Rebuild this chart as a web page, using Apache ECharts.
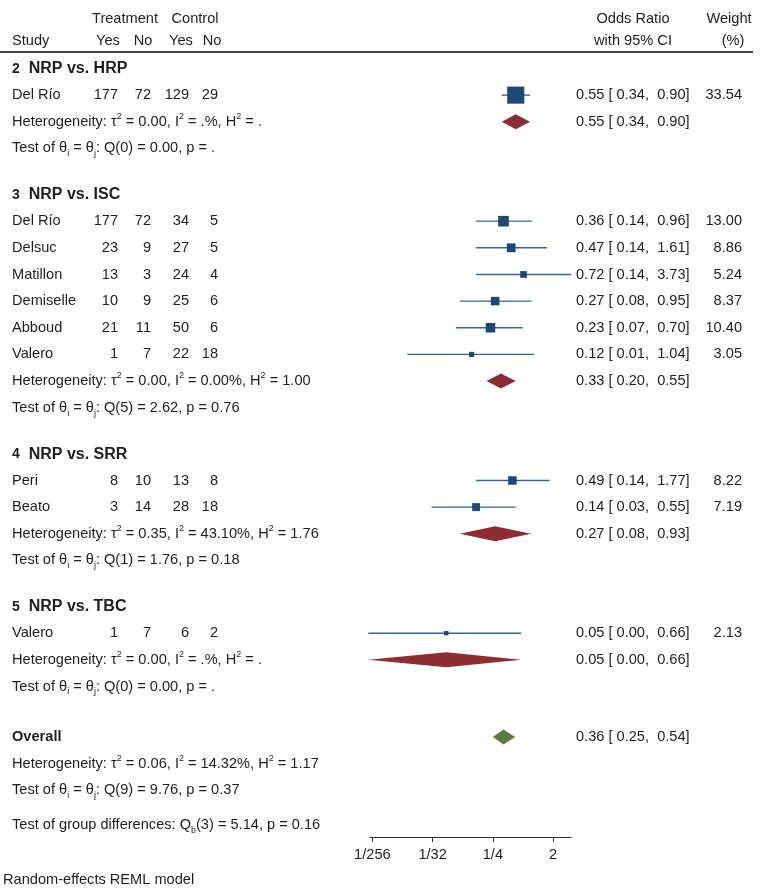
<!DOCTYPE html>
<html><head><meta charset="utf-8">
<script src="https://cdn.jsdelivr.net/npm/echarts@6/dist/echarts.min.js"></script>
<style>html,body{margin:0;padding:0;background:#fff}#c{width:764px;height:893px}</style>
</head><body><div id="c"></div>
<script>
// ---------------- data ----------------
const groupNumbers = ['2', '3', '4', '5'];
const groupTitles = ['NRP vs. HRP', 'NRP vs. ISC', 'NRP vs. SRR', 'NRP vs. TBC'];
const studyGroup = [0, 1, 1, 1, 1, 1, 1, 2, 2, 3];
const studyNames = ['Del Río', 'Del Río', 'Delsuc', 'Matillon', 'Demiselle', 'Abboud', 'Valero', 'Peri', 'Beato', 'Valero'];
const treatYes = [177, 177, 23, 13, 10, 21, 1, 8, 3, 1];
const treatNo = [72, 72, 9, 3, 9, 11, 7, 10, 14, 7];
const ctrlYes = [129, 34, 27, 24, 25, 50, 22, 13, 28, 6];
const ctrlNo = [29, 5, 5, 4, 6, 6, 18, 8, 18, 2];
const studyOR = [0.55, 0.36, 0.47, 0.72, 0.27, 0.23, 0.12, 0.49, 0.14, 0.05];
const studyLo = [0.34, 0.14, 0.14, 0.14, 0.08, 0.07, 0.013, 0.14, 0.03, 0.0034];
const studyHi = [0.90, 0.96, 1.61, 3.73, 0.95, 0.70, 1.04, 1.77, 0.55, 0.66];
const studyWeight = [33.54, 13.00, 8.86, 5.24, 8.37, 10.40, 3.05, 8.22, 7.19, 2.13];
const pooledOR = [0.55, 0.33, 0.27, 0.05];
const pooledLo = [0.34, 0.20, 0.08, 0.0034];
const pooledHi = [0.90, 0.55, 0.93, 0.66];
const hetTau2 = ['0.00', '0.00', '0.35', '0.00'];
const hetI2 = ['.', '0.00', '43.10', '.'];
const hetH2 = ['.', '1.00', '1.76', '.'];
const testDf = ['0', '5', '1', '0'];
const testQ = ['0.00', '2.62', '1.76', '0.00'];
const testP = ['.', '0.76', '0.18', '.'];
const overallOR = [0.36], overallLo = [0.25], overallHi = [0.54];
const overallHet = ['0.06', '14.32', '1.17'];
const overallTest = ['9', '9.76', '0.37'];
const groupDiff = ['3', '5.14', '0.16'];
const tickValues = [1 / 256, 1 / 32, 1 / 4, 2];
const tickLabels = ['1/256', '1/32', '1/4', '2'];
const axisRange = [0.0036, 3.7];

// ---------------- layout ----------------
const FONT = '"Liberation Sans", Arial, Helvetica, sans-serif';
const FS = 14.6;
const TXT = '#1e1e1e';
const U = 26.65, Y0 = 69, AXIS_Y = 837;
const rows = [];
let v = 0;
groupTitles.forEach((t, g) => {
  if (g > 0) v += 1.75;
  rows.push({ type: 'hdr', g, v });
  v += 0.98;
  studyGroup.forEach((sg, i) => { if (sg === g) { rows.push({ type: 'study', i, v }); v += 1; } });
  rows.push({ type: 'het', g, v }); v += 1;
  rows.push({ type: 'test', g, v });
});
v += 1.9; rows.push({ type: 'overall', v });
v += 1; rows.push({ type: 'ohet', v });
v += 1; rows.push({ type: 'otest', v });
v += 1.3; rows.push({ type: 'gdiff', v });

const studyRowV = [], pooledRowV = [];
let overallRowV = 0;
rows.forEach(r => {
  if (r.type === 'study') studyRowV[r.i] = r.v;
  if (r.type === 'het') pooledRowV[r.g] = r.v;
  if (r.type === 'overall') overallRowV = r.v;
});

const L2 = Math.log2;
const f2 = x => x.toFixed(2);
const ciText = (o, l, h) => `${f2(o)} [ ${f2(l)},  ${f2(h)}]`;

const richBase = {
  a: { fontSize: FS, fontFamily: FONT, fill: TXT, lineHeight: 20, verticalAlign: 'middle' },
  s: { fontSize: 9, fontFamily: FONT, fill: TXT, lineHeight: 9, verticalAlign: 'top' },
  b: { fontSize: 9, fontFamily: FONT, fill: TXT, lineHeight: 12, verticalAlign: 'bottom' },
  hn: { fontSize: 14, fontFamily: FONT, fontWeight: 'bold', fill: TXT, lineHeight: 20, verticalAlign: 'middle' },
  ht: { fontSize: 16, fontFamily: FONT, fontWeight: 'bold', fill: TXT, lineHeight: 20, verticalAlign: 'middle' }
};
const hetStr = (t, i, h) => `{a|Heterogeneity: τ}{s|2}{a| = ${t}, I}{s|2}{a| = ${i}%, H}{s|2}{a| = ${h}}`;
const testStr = (df, q, p) => `{a|Test of θ}{b|i}{a| = θ}{b|j}{a|: Q(${df}) = ${q}, p = ${p}}`;

function cells(r) {
  const c = [];
  const plain = (text, x, align, extra) => c.push(Object.assign({ text, x, align }, extra || {}));
  if (r.type === 'hdr') {
    plain(`{hn|${groupNumbers[r.g]}}{ht|  ${groupTitles[r.g]}}`, 12, 'left');
  } else if (r.type === 'study') {
    const i = r.i;
    plain(studyNames[i], 12, 'left');
    plain(String(treatYes[i]), 118, 'right');
    plain(String(treatNo[i]), 151, 'right');
    plain(String(ctrlYes[i]), 189, 'right');
    plain(String(ctrlNo[i]), 218, 'right');
    plain(ciText(studyOR[i], studyLo[i], studyHi[i]), 576, 'left');
    plain(f2(studyWeight[i]), 742, 'right');
  } else if (r.type === 'het') {
    plain(hetStr(hetTau2[r.g], hetI2[r.g], hetH2[r.g]), 12, 'left');
    plain(ciText(pooledOR[r.g], pooledLo[r.g], pooledHi[r.g]), 576, 'left');
  } else if (r.type === 'test') {
    plain(testStr(testDf[r.g], testQ[r.g], testP[r.g]), 12, 'left');
  } else if (r.type === 'overall') {
    plain('Overall', 12, 'left', { bold: true });
    plain(ciText(overallOR[0], overallLo[0], overallHi[0]), 576, 'left');
  } else if (r.type === 'ohet') {
    plain(hetStr(overallHet[0], overallHet[1], overallHet[2]), 12, 'left');
  } else if (r.type === 'otest') {
    plain(testStr(overallTest[0], overallTest[1], overallTest[2]), 12, 'left');
  } else if (r.type === 'gdiff') {
    plain(`{a|Test of group differences: Q}{b|b}{a|(${groupDiff[0]}) = ${groupDiff[1]}, p = ${groupDiff[2]}}`, 12, 'left');
  }
  return c;
}

const chart = echarts.init(document.getElementById('c'), null, { renderer: 'canvas' });

const ciData = studyOR.map((o, i) => [L2(studyLo[i]), L2(studyHi[i]), studyRowV[i]]);
const squareData = studyOR.map((o, i) => [L2(o), studyRowV[i], studyWeight[i]]);
const diamondData = pooledOR.map((o, g) => [L2(pooledLo[g]), L2(o), L2(pooledHi[g]), pooledRowV[g], 0])
  .concat([[L2(overallLo[0]), L2(overallOR[0]), L2(overallHi[0]), overallRowV, 1]]);

const hdrText = (text, x, y, align) => ({
  type: 'text', x, y, silent: true,
  style: { text, align, verticalAlign: 'middle', font: `${FS}px ${FONT}`, fill: TXT }
});

chart.setOption({
  animation: false,
  backgroundColor: '#fff',
  grid: { left: 370, right: 193, top: 0, bottom: 893 - AXIS_Y, outerBoundsMode: 'none' },
  xAxis: {
    type: 'value', position: 'bottom',
    min: L2(axisRange[0]), max: L2(axisRange[1]),
    axisLine: { show: true, onZero: false, lineStyle: { color: '#333', width: 1 } },
    axisTick: { show: true, length: 5, lineStyle: { color: '#333' }, customValues: tickValues.map(L2) },
    axisLabel: {
      show: true, customValues: tickValues.map(L2), margin: 10, fontSize: FS, fontFamily: FONT, color: TXT,
      formatter: val => { const k = tickValues.findIndex(t => Math.abs(L2(t) - val) < 1e-6); return k >= 0 ? tickLabels[k] : ''; }
    },
    splitLine: { show: false }
  },
  yAxis: { type: 'value', inverse: true, min: -Y0 / U, max: (AXIS_Y - Y0) / U, show: false, splitLine: { show: false } },
  graphic: [
    hdrText('Treatment', 125, 19, 'center'),
    hdrText('Control', 195, 19, 'center'),
    hdrText('Study', 12, 41, 'left'),
    hdrText('Yes', 108, 41, 'center'),
    hdrText('No', 143, 41, 'center'),
    hdrText('Yes', 181, 41, 'center'),
    hdrText('No', 212, 41, 'center'),
    hdrText('Odds Ratio', 633, 19, 'center'),
    hdrText('with 95% CI', 633, 41, 'center'),
    hdrText('Weight', 729, 19, 'center'),
    hdrText('(%)', 733, 41, 'center'),
    { type: 'line', silent: true, shape: { x1: 0, y1: 52, x2: 753, y2: 52 }, style: { stroke: '#000', lineWidth: 1.5 } },
    hdrText('Random-effects REML model', 3, 880, 'left')
  ],
  series: [
    {
      type: 'custom', name: 'ci', clip: false, silent: true,
      data: ciData,
      renderItem: (params, api) => {
        const p1 = api.coord([api.value(0), api.value(2)]);
        const p2 = api.coord([api.value(1), api.value(2)]);
        return { type: 'line', shape: { x1: p1[0], y1: p1[1], x2: p2[0], y2: p2[1] }, style: { stroke: '#36659a', lineWidth: 1.4 } };
      }
    },
    {
      type: 'scatter', name: 'study', silent: true,
      symbol: 'rect',
      symbolSize: d => 2.95 * Math.sqrt(d[2]),
      itemStyle: { color: '#1b4877', opacity: 1 },
      data: squareData
    },
    {
      type: 'custom', name: 'diamonds', clip: false, silent: true,
      data: diamondData,
      renderItem: (params, api) => {
        const y = api.value(3);
        const a = api.coord([api.value(0), y]);
        const m = api.coord([api.value(1), y]);
        const b = api.coord([api.value(2), y]);
        const h = 7.5;
        return {
          type: 'polygon',
          shape: { points: [[a[0], a[1]], [m[0], m[1] - h], [b[0], b[1]], [m[0], m[1] + h]] },
          style: { fill: api.value(4) ? '#5b7d3b' : '#8e2d31' }
        };
      }
    },
    {
      type: 'custom', name: 'text', clip: false, silent: true,
      data: rows.map(r => [0, r.v]),
      renderItem: (params, api) => {
        const r = rows[params.dataIndex];
        const py = api.coord([0, api.value(1)])[1];
        return {
          type: 'group',
          children: cells(r).map(c => ({
            type: 'text', x: c.x, y: py,
            style: {
              text: c.text, align: c.align, verticalAlign: 'middle',
              font: `${c.bold ? 'bold ' : ''}${FS}px ${FONT}`, fill: TXT, rich: richBase
            }
          }))
        };
      }
    }
  ]
});
</script></body></html>
